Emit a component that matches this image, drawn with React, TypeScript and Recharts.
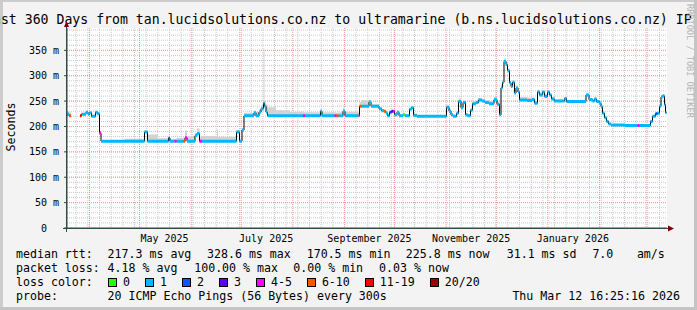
import React from 'react';
import { ComposedChart, Line, Area, XAxis, YAxis, CartesianGrid } from 'recharts';

// x values are days since 2025-03-01; the graph shows the last 360 days up to Mar 12 2026
const X_DOMAIN: [number, number] = [17.5, 377.5];
const Y_MAX = 394;

const monthStarts = [31, 61, 92, 122, 153, 184, 214, 245, 275, 306, 337, 365];
const labelDays = [76, 137, 199, 260, 321];
const labelNames = ['May 2025', 'July 2025', 'September 2025', 'November 2025', 'January 2026'];
const yTicks = [0, 50, 100, 150, 200, 250, 300, 350];

// start day of each median step, the last step ends at segEnd
const segDay = [
  17.5, 18.7, 19.9, 25.3, 26.2, 28.9, 30.1, 31.0, 32.2, 34.6,
  35.8, 37.0, 37.9, 52.3, 64.0, 65.8, 72.1, 78.4, 79.3, 82.0,
  83.2, 87.4, 88.3, 89.5, 94.3, 95.5, 97.0, 98.5, 107.5, 108.1,
  119.2, 121.0, 122.5, 123.7, 129.7, 130.9, 132.7, 133.9, 135.4, 136.0,
  136.9, 137.8, 142.9, 151.3, 159.1, 160.3, 169.6, 170.5, 178.0, 179.2,
  180.4, 183.1, 184.3, 192.4, 193.0, 194.2, 198.7, 199.9, 204.7, 206.2,
  207.7, 208.9, 209.8, 211.0, 212.2, 213.1, 214.0, 215.5, 216.7, 219.1,
  220.3, 223.0, 224.2, 225.4, 227.5, 245.2, 246.7, 247.9, 249.1, 251.2,
  252.4, 253.9, 255.1, 256.6, 257.8, 259.6, 260.8, 262.9, 264.4, 266.5,
  268.3, 270.7, 273.7, 275.5, 277.0, 277.9, 278.8, 279.7, 280.9, 281.8,
  283.0, 283.9, 284.8, 286.0, 286.9, 288.1, 289.0, 293.5, 296.5, 298.0,
  299.8, 301.0, 302.8, 304.0, 305.8, 307.0, 308.2, 310.0, 316.0, 317.2,
  328.9, 330.7, 332.8, 334.0, 335.2, 337.0, 337.9, 338.8, 340.0, 341.2,
  342.4, 343.9, 352.3, 359.8, 361.0, 367.6, 368.8, 370.6, 371.8, 373.0,
  373.9, 374.8, 376.0, 376.6,
];
const segEnd = 377.2;

// median rtt in ms (null = no answer)
const medianMs: (number | null)[] = [
  224, 221, null, 221, 224, 228, 224, 227, 220, 228,
  225, 187, 171, 171, 189, 171, 171, 177, 171, 171,
  171, 171, 178, 171, 182, 186, 171, 171, 171, 171,
  189, 171, 193, 221, 227, 221, 228, 235, 246, 240,
  228, 221, 221, 221, 221, 221, 230, 221, 221, 221,
  221, 230, 221, 221, 240, 240, 248, 240, 235, 231,
  230, 226, 221, 228, 230, 230, 223, 228, 221, 223,
  221, 234, 237, 222, 220, 238, 230, 223, 220, 226,
  249, 237, 247, 223, 221, 232, 245, 247, 252, 250,
  247, 245, 253, 244, 223, 276, 287, 328, 322, 310,
  286, 279, 287, 266, 276, 268, 252, 251, 253, 246,
  268, 262, 268, 259, 268, 262, 254, 250, 255, 249,
  262, 253, 250, 254, 249, 246, 239, 226, 217, 210,
  205, 203, 202, 202, 202, 210, 220, 225, 226, 240,
  258, 260, 243, 227,
];

// index into lossColors for each step
const lossIdx = [
  1, 5, 1, 6, 1, 1, 1, 1, 1, 1,
  1, 4, 1, 1, 1, 1, 1, 2, 1, 4,
  1, 5, 4, 1, 1, 1, 4, 1, 1, 1,
  1, 1, 1, 1, 1, 1, 1, 1, 1, 1,
  1, 1, 1, 1, 4, 1, 1, 1, 4, 5,
  1, 1, 1, 5, 5, 1, 1, 1, 1, 1,
  5, 1, 1, 2, 3, 4, 1, 1, 1, 0,
  1, 1, 1, 1, 1, 1, 1, 1, 1, 1,
  1, 1, 1, 1, 1, 1, 1, 1, 1, 1,
  1, 1, 1, 1, 1, 1, 1, 1, 1, 1,
  1, 1, 1, 1, 1, 1, 1, 1, 1, 1,
  1, 1, 1, 1, 1, 1, 1, 1, 1, 1,
  1, 1, 1, 1, 1, 1, 1, 1, 1, 1,
  1, 1, 1, 4, 1, 1, 1, 2, 1, 1,
  1, 1, 1, 1,
];

// top of the smoke (slowest pings) for each step, ms
const smokeTop: (number | null)[] = [
  230, 228, null, 223, 227, 230, 227, 229, 223, 230,
  227, 190, 173, 176, 193, 184, 177, 180, 175, 175,
  178, 176, 192, 181, 187, 196, 180, 181, 195, 180,
  193, 174, 196, 227, 231, 229, 233, 242, 352, 250,
  244, 238, 232, 229, 228, 228, 234, 228, 228, 227,
  228, 237, 229, 227, 248, 252, 251, 244, 238, 234,
  232, 229, 224, 230, 232, 232, 226, 230, 223, 225,
  223, 237, 239, 224, 222, 243, 234, 226, 223, 230,
  255, 241, 251, 226, 224, 236, 250, 251, 256, 253,
  251, 250, 258, 248, 226, 282, 292, 334, 328, 314,
  290, 283, 291, 271, 280, 272, 258, 257, 257, 250,
  273, 267, 272, 264, 272, 266, 258, 253, 258, 252,
  265, 256, 253, 257, 252, 249, 242, 229, 220, 213,
  208, 205, 204, 204, 204, 213, 223, 228, 229, 244,
  262, 264, 247, 230,
];

const lossColors = ['#26ff00', '#00b8ff', '#0059ff', '#5e00ff', '#ff00ff', '#ff5500', '#ff0000', '#a10000'];
const lossLabels = ['0', '1', '2', '3', '4-5', '6-10', '11-19', '20/20'];

const FONT = '"DejaVu Sans Mono", monospace';

const stepEnd = (i: number) => (i + 1 < segDay.length ? segDay[i + 1] : segEnd);

const medianRows: any[] = [];
const smokeRows: any[] = [];
segDay.forEach((d, i) => {
  const v = medianMs[i];
  if (v == null) {
    medianRows.push({ d, v: null });
    smokeRows.push({ d, r: null });
    return;
  }
  const e = stepEnd(i);
  medianRows.push({ d, v }, { d: e, v });
  smokeRows.push({ d, r: [v, smokeTop[i]] }, { d: e, r: [v, smokeTop[i]] });
});

const lossRows = lossColors.map((_, k) => {
  const rows: any[] = [];
  segDay.forEach((d, i) => {
    const v = medianMs[i];
    if (v == null || lossIdx[i] !== k) return;
    rows.push({ d, v }, { d: stepEnd(i), v }, { d: stepEnd(i), v: null });
  });
  return rows;
});

const weekDays: number[] = [];
for (let d = 23; d < X_DOMAIN[1]; d += 7) weekDays.push(d);
const minorMs: number[] = [];
for (let v = 10; v < Y_MAX; v += 10) minorMs.push(v);
const majorMs = yTicks.filter((v) => v > 0);

const txt = (left: number, top: number, s: string, extra: React.CSSProperties = {}) => (
  <div style={{ position: 'absolute', left, top, fontFamily: FONT, fontSize: 11.6, lineHeight: '11.6px', whiteSpace: 'pre', color: '#000', ...extra }}>{s}</div>
);

export default function App() {
  return (
    <div style={{ position: 'fixed', left: 0, top: 0, width: 697, height: 310, background: '#f3f3f3', overflow: 'hidden' }}>
      <div style={{ position: 'absolute', left: 0, top: 0, width: 697, height: 2, background: '#cccccc' }} />
      <div style={{ position: 'absolute', left: 0, top: 0, width: 3, height: 310, background: '#cccccc' }} />
      <div style={{ position: 'absolute', right: 0, top: 0, width: 3, height: 310, background: '#c4c4c4' }} />
      <div style={{ position: 'absolute', left: 0, bottom: 0, width: 697, height: 3, background: '#c4c4c4' }} />

      <div style={{ position: 'absolute', left: -15, top: 13, fontFamily: FONT, fontSize: 13.2, lineHeight: '13.2px', whiteSpace: 'pre', color: '#000' }}>
        Last 360 Days from tan.lucidsolutions.co.nz to ultramarine (b.ns.lucidsolutions.co.nz) IP
      </div>

      <div style={{ position: 'absolute', left: 685, top: 4, writingMode: 'vertical-rl', fontFamily: FONT, fontSize: 8.6, color: '#b4b4b4', whiteSpace: 'pre' }}>
        RRDTOOL / TOBI OETIKER
      </div>

      <div style={{ position: 'absolute', left: 10.7, top: 127.3, transform: 'translate(-50%, -50%) rotate(-90deg)', fontFamily: FONT, fontSize: 11.6, color: '#000', whiteSpace: 'pre' }}>
        Seconds
      </div>

      <div style={{ position: 'absolute', left: 0, top: 0 }}>
        <ComposedChart width={697} height={310} margin={{ top: 28, right: 30, bottom: 62, left: 10 }}>
          <CartesianGrid
            fill="#ffffff"
            stroke="#c8c8c8"
            strokeDasharray="1 1"
            horizontalValues={minorMs}
            verticalValues={weekDays}
          />
          <CartesianGrid
            stroke="#f29a9a"
            strokeDasharray="1 1"
            horizontalValues={majorMs}
            verticalValues={monthStarts}
          />
          <XAxis
            type="number"
            dataKey="d"
            domain={X_DOMAIN}
            allowDataOverflow
            ticks={labelDays}
            interval={0}
            tickFormatter={(v: number) => labelNames[labelDays.indexOf(v)] ?? ''}
            tickLine={false}
            tickSize={2}
            tickMargin={5}
            height={20}
            axisLine={{ stroke: '#2c4d43' }}
            tick={{ fill: '#000', fontSize: 10, fontFamily: FONT }}
          />
          <YAxis
            type="number"
            domain={[0, Y_MAX]}
            allowDataOverflow
            ticks={yTicks}
            interval={0}
            tickFormatter={(v: number) => (v === 0 ? '0\u00a0\u00a0' : `${v} m`)}
            width={57}
            tickSize={3}
            tickMargin={5}
            tickLine={{ stroke: '#2c4d43' }}
            axisLine={{ stroke: '#2c4d43' }}
            tick={{ fill: '#000', fontSize: 10, fontFamily: FONT }}
          />
          <Area
            data={smokeRows}
            dataKey="r"
            type="linear"
            stroke="none"
            fill="#d2d2d2"
            fillOpacity={1}
            isAnimationActive={false}
          />
          <Line data={medianRows} dataKey="v" type="linear" stroke="#000" strokeWidth={1} dot={false} isAnimationActive={false} />
          {lossRows.map((rows, k) =>
            rows.length ? (
              <Line
                key={k}
                data={rows}
                dataKey="v"
                type="linear"
                stroke={lossColors[k]}
                strokeWidth={3}
                dot={false}
                isAnimationActive={false}
              />
            ) : null
          )}
        </ComposedChart>
      </div>

      <svg width={697} height={310} style={{ position: 'absolute', left: 0, top: 0, pointerEvents: 'none' }}>
        <line x1={63} y1={228.5} x2={669} y2={228.5} stroke="#2c4d43" />
        <line x1={66.5} y1={232} x2={66.5} y2={25} stroke="#2c4d43" />
        <polygon points="668,225.5 674,228.5 668,231.5" fill="#7f0000" />
        <polygon points="64,27 66.5,21 69,27" fill="#7f0000" />
      </svg>

      {txt(16, 248.7, 'median rtt:')}
      {txt(107.6, 248.7, '217.3 ms avg')}
      {txt(207, 248.7, '328.6 ms max')}
      {txt(306.7, 248.7, '170.5 ms min')}
      {txt(405.8, 248.7, '225.8 ms now')}
      {txt(506.7, 248.7, '31.1 ms sd')}
      {txt(592.4, 248.7, '7.0')}
      {txt(636.9, 248.7, 'am/s')}

      {txt(16, 262.7, 'packet loss:')}
      {txt(107.6, 262.7, '4.18 % avg')}
      {txt(194.2, 262.7, '100.00 % max')}
      {txt(293.3, 262.7, '0.00 % min')}
      {txt(379.1, 262.7, '0.03 % now')}

      {txt(16, 276.7, 'loss color:')}
      <div style={{ position: 'absolute', left: 108, top: 278, display: 'flex', alignItems: 'center' }}>
        {lossLabels.map((l, k) => (
          <div key={k} style={{ display: 'flex', alignItems: 'center', marginRight: 15 }}>
            <div style={{ width: 7, height: 7, border: '1px solid #000', background: lossColors[k] }} />
            <span style={{ marginLeft: 6, fontFamily: FONT, fontSize: 11.6, lineHeight: '9px', whiteSpace: 'pre' }}>{l}</span>
          </div>
        ))}
      </div>

      {txt(16, 290.7, 'probe:')}
      {txt(107.6, 290.7, '20 ICMP Echo Pings (56 Bytes) every 300s')}
      {txt(512.4, 290.7, 'Thu Mar 12 16:25:16 2026')}
    </div>
  );
}
